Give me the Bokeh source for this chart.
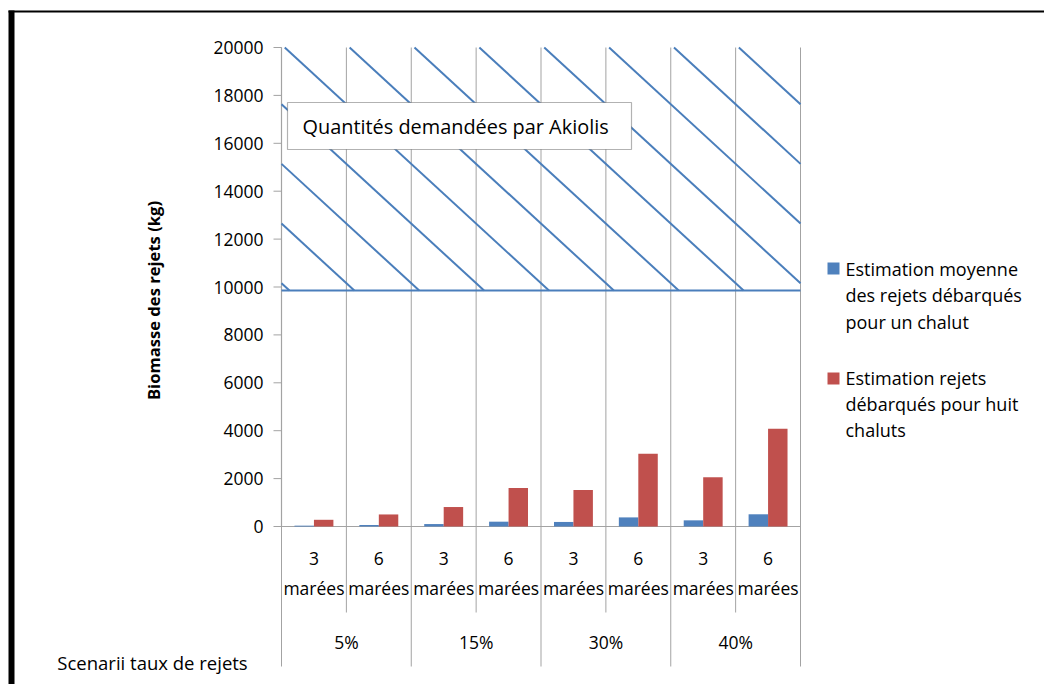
import math
from bokeh.plotting import figure
from bokeh.models import Range1d, Label, BoxAnnotation, ColumnDataSource
from bokeh.core.properties import value
from bokeh.embed import file_html
from bokeh.resources import INLINE

# ---------------- data ----------------
taux = ["5%", "15%", "30%", "40%"]
marees_nb = ["3", "6", "3", "6", "3", "6", "3", "6"]
marees_txt = ["marées"] * 8
rejets_un_chalut = [35, 63, 102, 201, 190, 380, 257, 510]
rejets_huit_chaluts = [280, 503, 813, 1608, 1524, 3035, 2056, 4080]
y_ticks = [0, 2000, 4000, 6000, 8000, 10000, 12000, 14000, 16000, 18000, 20000]
y_tick_labels = [str(t) for t in y_ticks]
zone_demande = [9850, 20000]   # zone hachurée "Quantités demandées par Akiolis"
serie_1 = ["Estimation moyenne", "des rejets débarqués", "pour un chalut"]
serie_2 = ["Estimation rejets", "débarqués pour huit", "chaluts"]
titre_y = "Biomasse des rejets (kg)"
titre_x = "Scenarii taux de rejets"
encadre = "Quantités demandées par Akiolis"

# ---------------- layout (pixel positions of the plot area) ----------------
W, H = 1044, 684
FL, FR, FT, FB = 281, 800, 47, 526
NCAT = len(marees_nb)
YMAX = y_ticks[-1]
PXU = (FR - FL) / NCAT
PYU = (FB - FT) / YMAX

def dx(px):
    return (px - FL) / PXU

def dy(py):
    return (FB - py) / PYU

BLUE = "#4F81BD"
RED = "#C0504D"
HATCH = "#4A7EBB"
GRAY = "#A3A3A3"
FONT = "Open Sans"

p = figure(width=W, height=H, x_range=Range1d(dx(0), dx(W)), y_range=Range1d(dy(H), dy(0)),
           output_backend="svg", toolbar_location=None, min_border=0)
p.axis.visible = False
p.grid.visible = False
p.outline_line_color = None
p.background_fill_color = "white"
p.border_fill_color = "white"

# vertical separators / gridlines (plot area + category axis)
bounds = list(range(NCAT + 1))
p.segment(x0=bounds, x1=bounds, y0=[YMAX] * len(bounds),
          y1=[dy(666) if b % 2 == 0 else dy(612) for b in bounds],
          line_color=GRAY, line_width=1)
# axes lines
p.segment(x0=[0], x1=[NCAT], y0=[0], y1=[0], line_color=GRAY, line_width=1.2)
p.segment(x0=[0], x1=[0], y0=[0], y1=[YMAX], line_color=GRAY, line_width=1.2)
# y ticks
p.segment(x0=[dx(273)] * len(y_ticks), x1=[0] * len(y_ticks), y0=y_ticks, y1=y_ticks,
          line_color=GRAY, line_width=1)
p.text(x=[dx(263)] * len(y_ticks), y=y_ticks, text=y_tick_labels, text_font=value(FONT),
       text_font_size="17.5px", text_align="right", text_baseline="middle", text_color="black")

# hatched zone
slope_px = 0.92
spacing_px = PXU
m = slope_px * PXU / PYU
step = spacing_px / PXU
y0, y1 = zone_demande
xs, ys = [], []
k = -12
while k < 20:
    x_top = k * step + 0.05
    b = y1 + m * x_top
    xa = max(0.0, (b - y1) / m)
    xb = min(float(NCAT), (b - y0) / m)
    if xa < xb:
        xs.append([xa, xb])
        ys.append([b - m * xa, b - m * xb])
    k += 1
p.multi_line(xs=xs, ys=ys, line_color=HATCH, line_width=2)
p.segment(x0=[0], x1=[NCAT], y0=[y0], y1=[y0], line_color=HATCH, line_width=2)

# bars
src = ColumnDataSource(dict(
    x1=[i + 0.5 - 0.15 for i in range(NCAT)],
    x2=[i + 0.5 + 0.15 for i in range(NCAT)],
    b=rejets_un_chalut, r=rejets_huit_chaluts))
p.vbar(x="x1", top="b", width=0.3, source=src, fill_color=BLUE, line_color=None)
p.vbar(x="x2", top="r", width=0.3, source=src, fill_color=RED, line_color=None)

# category labels
cx = [i + 0.5 for i in range(NCAT)]
p.text(x=cx, y=[dy(558)] * NCAT, text=marees_nb, text_font=value(FONT), text_font_size="17.5px",
       text_align="center", text_baseline="middle", text_color="black")
p.text(x=cx, y=[dy(587)] * NCAT, text=marees_txt, text_font=value(FONT), text_font_size="17.5px",
       text_align="center", text_baseline="middle", text_color="black")
gx = [2 * g + 1 for g in range(len(taux))]
p.text(x=gx, y=[dy(641)] * len(taux), text=taux, text_font=value(FONT), text_font_size="17.5px",
       text_align="center", text_baseline="middle", text_color="black")

def lab(x, y, text, size="17.5px", align="left", **kw):
    p.add_layout(Label(x=x, y=y, text=text, text_font=FONT, text_font_size=size,
                       text_align=align, text_baseline="middle", text_color="black", **kw))

# text box
p.add_layout(BoxAnnotation(left=dx(287), right=dx(631), top=dy(102), bottom=dy(149),
                           fill_color="white", fill_alpha=1, line_color="black", line_width=1.2))
lab(dx(302), dy(125.5), encadre, size="19.9px")

lab(dx(152), dy(662), titre_x, size="18.5px", align="center")
lab(dx(153), dy(300), titre_y, size="16.6px", align="center", angle=math.pi / 2,
    text_font_style="bold")

# legend
p.add_layout(BoxAnnotation(left=dx(827), right=dx(839), top=dy(262), bottom=dy(274),
                           fill_color=BLUE, fill_alpha=1, line_color=None))
p.add_layout(BoxAnnotation(left=dx(827), right=dx(839), top=dy(372), bottom=dy(384),
                           fill_color=RED, fill_alpha=1, line_color=None))
for j, t in enumerate(serie_1):
    lab(dx(845), dy(268 + 26.5 * j), t, size="18px")
for j, t in enumerate(serie_2):
    lab(dx(845), dy(377 + 26 * j), t, size="18px")

# outer frame
p.add_layout(BoxAnnotation(left=dx(8), right=dx(14), top=dy(10), bottom=dy(H + 5),
                           fill_color="black", fill_alpha=1, line_color=None))
p.add_layout(BoxAnnotation(left=dx(8), right=dx(W + 5), top=dy(10), bottom=dy(12),
                           fill_color="black", fill_alpha=1, line_color=None))

open("out.html", "w").write(file_html(p, INLINE))
